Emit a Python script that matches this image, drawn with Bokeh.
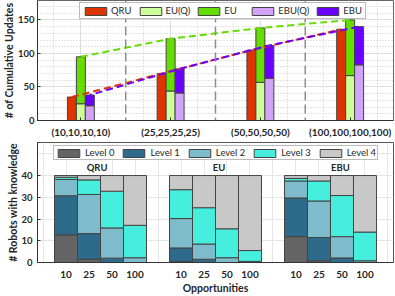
from bokeh.plotting import figure
from bokeh.layouts import column
from bokeh.models import Range1d, FixedTicker, Legend, LegendItem, Span, Title
from bokeh.embed import file_html
from bokeh.resources import INLINE
from bokeh.core.properties import value

# ---------------- data: top chart ----------------
groups = ["(10,10,10,10)", "(25,25,25,25)", "(50,50,50,50)", "(100,100,100,100)"]
qru = [35, 70, 105, 136]
eu_q = [25, 44, 57, 67]
eu = [95, 122, 138, 150]
ebu_q = [22, 41, 63, 83]
ebu = [38, 77, 112, 140]

# ---------------- data: bottom chart ----------------
methods = ["QRU", "EU", "EBU"]
opps = ["10", "25", "50", "100"]
level_names = ["Level 0", "Level 1", "Level 2", "Level 3", "Level 4"]
# order: QRU(10,25,50,100), EU(10,25,50,100), EBU(10,25,50,100)
lvl0 = [12.7, 1.5, 0.0, 0.0, 0.5, 0.0, 0.0, 0.0, 11.9, 0.8, 0.0, 0.0]
lvl1 = [18.0, 11.8, 2.0, 0.0, 6.2, 1.5, 0.0, 0.0, 17.8, 10.7, 2.1, 0.0]
lvl2 = [7.5, 18.0, 13.9, 2.2, 13.5, 7.0, 2.2, 0.5, 7.8, 16.8, 9.8, 0.8]
lvl3 = [1.0, 6.7, 16.9, 14.9, 13.3, 16.7, 13.3, 5.0, 1.2, 9.2, 18.9, 13.2]
lvl4 = [0.8, 2.0, 7.2, 22.9, 6.5, 14.8, 24.5, 34.5, 1.3, 2.5, 9.2, 26.0]

FONT = "Lato"
TXT = "#262626"
C_QRU, C_EUQ, C_EU, C_EBUQ, C_EBU = "#e03400", "#ccff99", "#66dd00", "#d2a4f7", "#6a00ff"
LVL_COLORS = ["#646464", "#2e6a8a", "#7fbccb", "#46eedd", "#c8c8c8"]
EDGE = "#444444"

W = 395


def side_title(p, text):
    p.add_layout(Title(text=text, align="center", standoff=0, offset=0,
                       text_font=FONT, text_font_style="bold", text_font_size="10.5px",
                       text_color=TXT), "left")


# ================= top figure =================
p1 = figure(width=W, height=140, output_backend="svg", toolbar_location=None,
            x_range=Range1d(0.517, 4.483), y_range=Range1d(0, 179),
            min_border_left=37, min_border_right=1, min_border_top=0, min_border_bottom=18)
p1.outline_line_color = "#666666"
p1.background_fill_color = "white"

xi = list(range(1, len(groups) + 1))
x_q = [v - 0.1 for v in xi]
x_e = [v for v in xi]
x_b = [v + 0.1 for v in xi]

r_qru = p1.vbar(x=x_q, top=qru, width=0.1, fill_color=C_QRU, line_color=EDGE, line_width=1)
r_euq = p1.vbar(x=x_e, top=eu_q, width=0.1, fill_color=C_EUQ, line_color=EDGE, line_width=1)
r_eu = p1.vbar(x=x_e, bottom=eu_q, top=eu, width=0.1, fill_color=C_EU, line_color=EDGE, line_width=1)
r_ebuq = p1.vbar(x=x_b, top=ebu_q, width=0.1, fill_color=C_EBUQ, line_color=EDGE, line_width=1)
r_ebu = p1.vbar(x=x_b, bottom=ebu_q, top=ebu, width=0.1, fill_color=C_EBU, line_color=EDGE, line_width=1)

p1.line(x_e, eu, line_color=C_EU, line_width=2, line_dash="7 4")
p1.line(x_q, qru, line_color=C_QRU, line_width=2, line_dash="7 4")
p1.line(x_b, ebu, line_color=C_EBU, line_width=2, line_dash="7 4", line_dash_offset=5)

for s in [1.5, 2.5, 3.5]:
    p1.add_layout(Span(location=s, dimension="height", line_color="#8c8c8c",
                       line_dash="9 4", line_width=1.5))

p1.xaxis.ticker = FixedTicker(ticks=xi, minor_ticks=[v + d for v in xi for d in (-0.3, 0.3)])
p1.xaxis.major_label_overrides = {i: g for i, g in zip(xi, groups)}
p1.yaxis.ticker = FixedTicker(ticks=[0, 50, 100, 150], minor_ticks=list(range(0, 180, 10)))

for ax in (p1.xaxis[0], p1.yaxis[0]):
    ax.axis_line_color = "#333333"
    ax.major_tick_in = 3
    ax.major_tick_out = 0
    ax.minor_tick_in = 0
    ax.minor_tick_out = 0
    ax.major_tick_line_color = "#333333"
    ax.major_label_text_font = FONT
    ax.major_label_text_font_style = "bold"
    ax.major_label_text_font_size = "10px"
    ax.major_label_text_color = TXT
p1.yaxis.major_label_text_font_size = "9.5px"
p1.xaxis.major_label_standoff = 5
p1.yaxis.major_label_standoff = 3
side_title(p1, "# of Cumulative Updates")

p1.xgrid.grid_line_color = "#dddddd"
p1.ygrid.grid_line_color = "#dddddd"
p1.xgrid.minor_grid_line_color = "#c8c8c8"
p1.ygrid.minor_grid_line_color = "#c8c8c8"
p1.xgrid.minor_grid_line_dash = "1 2"
p1.ygrid.minor_grid_line_dash = "1 2"

leg1 = Legend(items=[LegendItem(label="QRU", renderers=[r_qru]),
                     LegendItem(label="EU(Q)", renderers=[r_euq]),
                     LegendItem(label="EU", renderers=[r_eu]),
                     LegendItem(label="EBU(Q)", renderers=[r_ebuq]),
                     LegendItem(label="EBU", renderers=[r_ebu])],
              orientation="horizontal", location=(42, 101),
              glyph_width=27, glyph_height=10, label_height=10, label_standoff=2,
              spacing=5, padding=2, margin=0,
              label_text_font=FONT, label_text_font_size="9.5px", label_text_color=TXT,
              border_line_color="#777777", background_fill_alpha=1)
p1.add_layout(leg1)

# ================= bottom figure =================
p2 = figure(width=W, height=156, output_backend="svg", toolbar_location=None,
            x_range=Range1d(-1.24, 14.24), y_range=Range1d(0, 55.2),
            min_border_left=37, min_border_right=2, min_border_top=2, min_border_bottom=30)
p2.outline_line_color = "#555555"

pos = [g * 5 + j for g in range(len(methods)) for j in range(len(opps))]
levels = [lvl0, lvl1, lvl2, lvl3, lvl4]
rend = []
base = [0.0] * len(pos)
for lv, col in zip(levels, LVL_COLORS):
    top = [b + v for b, v in zip(base, lv)]
    r = p2.vbar(x=pos, bottom=base, top=top, width=1.0, fill_color=col,
                line_color=EDGE, line_width=1)
    rend.append(r)
    base = top

p2.xaxis.ticker = FixedTicker(ticks=pos)
p2.xaxis.major_label_overrides = {x: opps[i % 4] for i, x in enumerate(pos)}
p2.xaxis.axis_label = "Opportunities"
p2.yaxis.ticker = FixedTicker(ticks=[0, 10, 20, 30, 40])
p2.xgrid.ticker = FixedTicker(ticks=list(range(-1, 15)))
p2.ygrid.ticker = FixedTicker(ticks=[0, 10, 20, 30, 40, 50])
p2.xgrid.grid_line_color = "#e6e6e6"
p2.ygrid.grid_line_color = "#e6e6e6"

for ax in (p2.xaxis[0], p2.yaxis[0]):
    ax.axis_line_color = "#333333"
    ax.major_tick_in = 0
    ax.major_tick_out = 0
    ax.minor_tick_in = 0
    ax.minor_tick_out = 0
    ax.major_label_text_font = FONT
    ax.major_label_text_font_style = "bold"
    ax.major_label_text_font_size = "10px"
    ax.major_label_text_color = TXT
    ax.axis_label_text_font = FONT
    ax.axis_label_text_font_style = "bold"
    ax.axis_label_text_font_size = "10.5px"
    ax.axis_label_text_color = TXT
p2.yaxis.major_label_text_font_size = "9.5px"
p2.yaxis.major_tick_in = 3
p2.yaxis.major_tick_line_color = "#333333"
p2.xaxis.major_label_standoff = 8
p2.xaxis.axis_label_standoff = 1
p2.yaxis.major_label_standoff = 5
side_title(p2, "# Robots with knowledge")

p2.text(x=[1.35, 6.65, 11.93], y=[41.2, 41.2, 41.2], text=methods,
        text_font=value(FONT), text_font_style="bold", text_font_size="9.5px",
        text_align="center", text_baseline="bottom", text_color=TXT)

leg2 = Legend(items=[LegendItem(label=n, renderers=[r]) for n, r in zip(level_names, rend)],
              orientation="horizontal", location=(16, 102),
              glyph_width=27, glyph_height=10, label_height=10, label_standoff=3,
              spacing=6, padding=1, margin=0,
              label_text_font=FONT, label_text_font_size="9.5px", label_text_color=TXT,
              border_line_color="#777777", background_fill_alpha=1)
p2.add_layout(leg2)

layout = column(p1, p2, spacing=0)
open("out.html", "w").write(file_html(layout, INLINE))
